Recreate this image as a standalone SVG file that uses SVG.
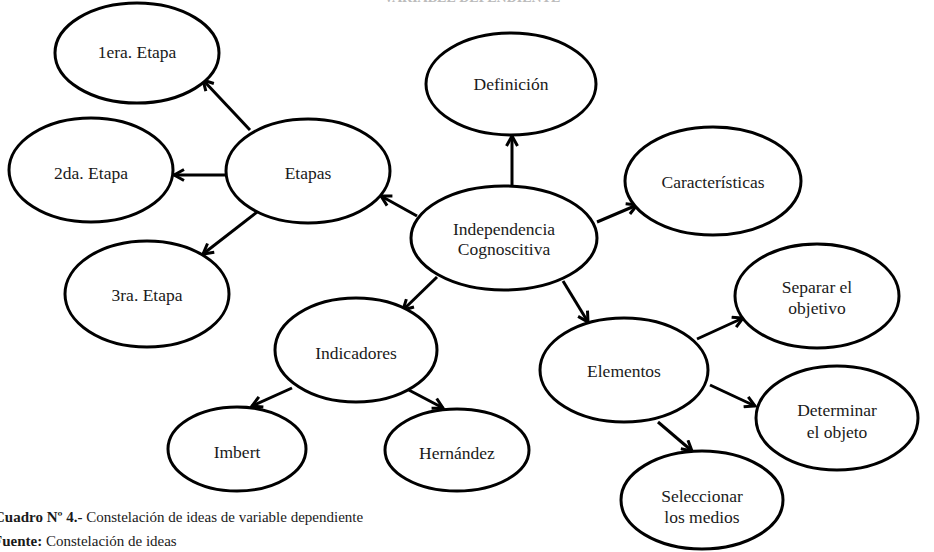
<svg xmlns="http://www.w3.org/2000/svg" width="934" height="552" viewBox="0 0 934 552">
<style>
.n{fill:#fff;stroke:#000;stroke-width:3}
.t{font-size:17.5px;fill:#1a1a1a;text-anchor:middle}
.c{stroke:#000;stroke-width:3;fill:none;marker-end:url(#ah)}
.cap{font-size:15px;fill:#1a1a1a}
</style>
<defs>
<marker id="ah" markerUnits="userSpaceOnUse" viewBox="0 0 14 14" markerWidth="14" markerHeight="14" refX="12" refY="7" orient="auto">
<path d="M2,1.5 L12,7 L2,12.5" fill="none" stroke="#000" stroke-width="3"/>
</marker>
</defs>
<rect width="934" height="552" fill="#fff"/>
<g font-family="Liberation Serif, Times New Roman, serif">
<text x="472" y="2" font-size="14" font-weight="bold" fill="#bbb" text-anchor="middle">VARIABLE DEPENDIENTE</text>
<g id="connectors">
<line class="c" x1="250" y1="130" x2="203" y2="80"/>
<line class="c" x1="227" y1="175" x2="174" y2="175"/>
<line class="c" x1="257" y1="212" x2="203" y2="254"/>
<line class="c" x1="417" y1="216" x2="381" y2="196"/>
<line class="c" x1="512" y1="186" x2="512" y2="136"/>
<line class="c" x1="597" y1="222" x2="637" y2="205"/>
<line class="c" x1="437" y1="277" x2="403" y2="310"/>
<line class="c" x1="563" y1="281" x2="588" y2="322"/>
<line class="c" x1="697" y1="339" x2="743" y2="318"/>
<line class="c" x1="710" y1="385" x2="755" y2="406"/>
<line class="c" x1="658" y1="422" x2="692" y2="451"/>
<line class="c" x1="292" y1="388" x2="252" y2="406"/>
<line class="c" x1="405" y1="388" x2="443" y2="408"/>
</g>
<g id="n-1era"><ellipse class="n" cx="137" cy="53" rx="82" ry="50"/><text class="t" x="137" y="58">1era. Etapa</text></g>
<g id="n-2da"><ellipse class="n" cx="91" cy="170" rx="82" ry="52"/><text class="t" x="91" y="179">2da. Etapa</text></g>
<g id="n-3ra"><ellipse class="n" cx="147" cy="294" rx="82" ry="53"/><text class="t" x="147" y="301">3ra. Etapa</text></g>
<g id="n-etapas"><ellipse class="n" cx="308" cy="171" rx="82" ry="52"/><text class="t" x="308" y="179">Etapas</text></g>
<g id="n-definicion"><ellipse class="n" cx="511" cy="84" rx="85" ry="51"/><text class="t" x="511" y="90">Definición</text></g>
<g id="n-indep"><ellipse class="n" cx="504" cy="238" rx="93" ry="52"/><text class="t" x="504" y="235">Independencia</text><text class="t" x="504" y="255">Cognoscitiva</text></g>
<g id="n-caract"><ellipse class="n" cx="713" cy="181" rx="88" ry="54"/><text class="t" x="713" y="188">Características</text></g>
<g id="n-separar"><ellipse class="n" cx="817" cy="296" rx="82" ry="52"/><text class="t" x="817" y="293">Separar el</text><text class="t" x="817" y="314">objetivo</text></g>
<g id="n-elementos"><ellipse class="n" cx="624" cy="370" rx="84" ry="52"/><text class="t" x="624" y="377">Elementos</text></g>
<g id="n-determinar"><ellipse class="n" cx="837" cy="418" rx="81" ry="52"/><text class="t" x="837" y="416">Determinar</text><text class="t" x="837" y="438">el objeto</text></g>
<g id="n-seleccionar"><ellipse class="n" cx="702" cy="500" rx="81" ry="49"/><text class="t" x="702" y="502">Seleccionar</text><text class="t" x="702" y="523">los medios</text></g>
<g id="n-indicadores"><ellipse class="n" cx="356" cy="350" rx="81" ry="52"/><text class="t" x="356" y="359">Indicadores</text></g>
<g id="n-imbert"><ellipse class="n" cx="237" cy="449" rx="69" ry="42"/><text class="t" x="237" y="458">Imbert</text></g>
<g id="n-hernandez"><ellipse class="n" cx="457" cy="450" rx="72" ry="41"/><text class="t" x="457" y="459">Hernández</text></g>
<text class="cap" x="-6" y="522"><tspan font-weight="bold">Cuadro Nº 4.-</tspan> Constelación de ideas de variable dependiente</text>
<text class="cap" x="-7" y="546"><tspan font-weight="bold">Fuente:</tspan> Constelación de ideas</text>
</g>
</svg>
